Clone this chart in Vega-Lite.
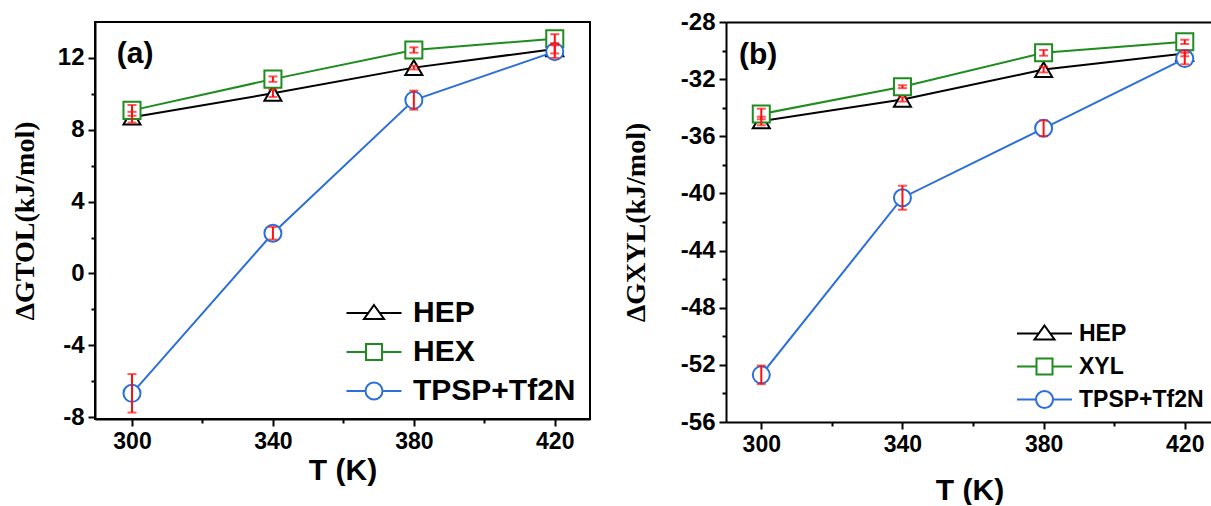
{
  "$schema": "https://vega.github.io/schema/vega-lite/v6.json",
  "padding": {"left": 10, "top": 10, "right": 0, "bottom": 0},
  "background": "white",
  "resolve": {"scale": {"color": "independent", "shape": "independent"}, "legend": {"color": "independent", "shape": "independent"}},
  "config": {
    "font": "Liberation Sans",
    "concat": {"spacing": 31},
    "axis": {"domainColor": "black", "tickColor": "black", "labelColor": "black", "titleColor": "black", "grid": false, "domainWidth": 2, "tickWidth": 2}
  },
  "datasets": {
    "a": [
      {"s": "HEP", "T": 300, "G": 8.7, "e": 0.3},
      {"s": "HEP", "T": 340, "G": 10.03, "e": 0.2},
      {"s": "HEP", "T": 380, "G": 11.46, "e": 0.1},
      {"s": "HEP", "T": 420, "G": 12.5, "e": 0.25},
      {"s": "HEX", "T": 300, "G": 9.08, "e": 0.3},
      {"s": "HEX", "T": 340, "G": 10.82, "e": 0.15},
      {"s": "HEX", "T": 380, "G": 12.44, "e": 0.15},
      {"s": "HEX", "T": 420, "G": 13.07, "e": 0.25},
      {"s": "TPSP+Tf2N", "T": 300, "G": -6.67, "e": 1.07},
      {"s": "TPSP+Tf2N", "T": 340, "G": 2.24, "e": 0.35},
      {"s": "TPSP+Tf2N", "T": 380, "G": 9.65, "e": 0.53},
      {"s": "TPSP+Tf2N", "T": 420, "G": 12.35, "e": 0.35}
    ],
    "b": [
      {"s": "HEP", "T": 300, "G": -34.93, "e": 0.3},
      {"s": "HEP", "T": 340, "G": -33.42, "e": 0.15},
      {"s": "HEP", "T": 380, "G": -31.33, "e": 0.2},
      {"s": "HEP", "T": 420, "G": -30.2, "e": 0.2},
      {"s": "XYL", "T": 300, "G": -34.44, "e": 0.37},
      {"s": "XYL", "T": 340, "G": -32.53, "e": 0.1},
      {"s": "XYL", "T": 380, "G": -30.16, "e": 0.2},
      {"s": "XYL", "T": 420, "G": -29.39, "e": 0.15},
      {"s": "TPSP+Tf2N", "T": 300, "G": -52.7, "e": 0.65},
      {"s": "TPSP+Tf2N", "T": 340, "G": -40.3, "e": 0.84},
      {"s": "TPSP+Tf2N", "T": 380, "G": -35.44, "e": 0.55},
      {"s": "TPSP+Tf2N", "T": 420, "G": -30.56, "e": 0.4}
    ]
  },
  "hconcat": [
    {
      "width": 495,
      "height": 397,
      "data": {"name": "a"},
      "view": {"stroke": "black", "strokeWidth": 2},
      "resolve": {"scale": {"shape": "independent", "color": "independent"}, "axis": {"x": "independent", "y": "independent"}},
      "layer": [
        {
          "mark": {"type": "line", "strokeWidth": 2},
          "encoding": {
            "x": {"field": "T", "type": "quantitative", "scale": {"domain": [289.5, 430], "nice": false, "zero": false},
              "axis": {"orient": "bottom", "values": [300, 340, 380, 420], "labelExpr": "'' + datum.value", "tickSize": 7, "labelPadding": 4, "labelFontSize": 23, "labelFontWeight": "bold", "labelFont": "Liberation Sans", "title": "T (K)", "titleFont": "Liberation Sans", "titleFontSize": 30, "titleFontWeight": "bold", "titlePadding": 2}},
            "y": {"field": "G", "type": "quantitative", "scale": {"domain": [-8.1, 14], "nice": false, "zero": false},
              "axis": {"orient": "left", "values": [-8, -4, 0, 4, 8, 12], "labelExpr": "'' + datum.value", "tickSize": 7, "labelPadding": 4, "labelFontSize": 24, "labelFontWeight": "bold", "labelFont": "Liberation Sans", "title": "ΔGTOL(kJ/mol)", "titleFont": "Liberation Serif", "titleFontSize": 28, "titleFontWeight": "bold", "titlePadding": 18}},
            "color": {"field": "s", "type": "nominal", "scale": {"domain": ["HEP", "HEX", "TPSP+Tf2N"], "range": ["#000000", "#1e8c1e", "#2b6fd8"]}, "legend": null}
          }
        },
        {
          "mark": {"type": "point", "filled": false, "fill": "white", "fillOpacity": 1, "strokeWidth": 2, "size": 290, "opacity": 1},
          "encoding": {
            "x": {"field": "T", "type": "quantitative",
              "axis": {"orient": "bottom", "values": [320, 360, 400], "labels": false, "domain": false, "title": null, "tickSize": 4}},
            "y": {"field": "G", "type": "quantitative",
              "axis": {"orient": "left", "values": [-6, -2, 2, 6, 10], "labels": false, "domain": false, "title": null, "tickSize": 4}},
            "color": {"field": "s", "type": "nominal", "scale": {"domain": ["HEP", "HEX", "TPSP+Tf2N"], "range": ["#000000", "#1e8c1e", "#2b6fd8"]}, "legend": null},
            "shape": {"field": "s", "type": "nominal", "scale": {"domain": ["HEP", "HEX", "TPSP+Tf2N"], "range": ["triangle-up", "square", "circle"]}, "legend": null}
          }
        },
        {
          "mark": {"type": "errorbar", "color": "#ff1010", "thickness": 2, "ticks": {"size": 9, "thickness": 2, "color": "#ff1010"}},
          "encoding": {
            "x": {"field": "T", "type": "quantitative", "axis": null},
            "y": {"field": "G", "type": "quantitative", "axis": null},
            "yError": {"field": "e"}
          }
        },
        {
          "transform": [{"filter": "false"}],
          "mark": {"type": "point", "filled": false, "strokeWidth": 2, "opacity": 1},
          "encoding": {
            "shape": {"field": "s", "type": "nominal",
              "scale": {"domain": ["HEP", "HEX", "TPSP+Tf2N"], "range": ["M-2.75,0H-0.57M0.57,0H2.75M0,-0.8L1,0.6H-1Z", "M-2.75,0H-0.8M0.8,0H2.75M-0.8,-0.8H0.8V0.8H-0.8Z", "M-2.75,0H-0.85M0.85,0H2.75M0.85,0A0.85,0.85,0,1,1,-0.85,0A0.85,0.85,0,1,1,0.85,0Z"]},
              "legend": {"orient": "none", "legendX": 264, "legendY": 276, "title": null, "padding": 0, "labelFont": "Liberation Sans", "labelFontSize": 30, "labelFontWeight": "bold", "labelColor": "black", "labelLimit": 400, "symbolSize": 400, "symbolStrokeWidth": 2, "labelOffset": 24, "rowPadding": 9}},
            "color": {"field": "s", "type": "nominal",
              "scale": {"domain": ["HEP", "HEX", "TPSP+Tf2N"], "range": ["#000000", "#1e8c1e", "#2b6fd8"]},
              "legend": {"orient": "none", "legendX": 264, "legendY": 276, "title": null, "padding": 0, "labelFont": "Liberation Sans", "labelFontSize": 30, "labelFontWeight": "bold", "labelColor": "black", "labelLimit": 400, "symbolSize": 400, "symbolStrokeWidth": 2, "labelOffset": 24, "rowPadding": 9}}
          }
        },
        {
          "data": {"values": [{}]},
          "mark": {"type": "text", "text": "(a)", "font": "Liberation Sans", "fontSize": 30, "fontWeight": "bold", "align": "center", "baseline": "middle", "color": "black"},
          "encoding": {
            "x": {"datum": 300.9, "type": "quantitative", "axis": null},
            "y": {"datum": 12.2, "type": "quantitative", "axis": null}
          }
        }
      ]
    },
    {
      "width": 487,
      "height": 400,
      "data": {"name": "b"},
      "view": {"stroke": null},
      "resolve": {"scale": {"shape": "independent", "color": "independent"}, "axis": {"x": "independent", "y": "independent"}},
      "layer": [
        {
          "mark": {"type": "line", "strokeWidth": 2},
          "encoding": {
            "x": {"field": "T", "type": "quantitative", "scale": {"domain": [290, 428], "nice": false, "zero": false},
              "axis": {"orient": "bottom", "values": [300, 340, 380, 420], "labelExpr": "'' + datum.value", "tickSize": 7, "labelPadding": 4, "labelFontSize": 23, "labelFontWeight": "bold", "labelFont": "Liberation Sans", "title": "T (K)", "titleFont": "Liberation Sans", "titleFontSize": 30, "titleFontWeight": "bold", "titlePadding": 19}},
            "y": {"field": "G", "type": "quantitative", "scale": {"domain": [-56, -28], "nice": false, "zero": false},
              "axis": {"orient": "left", "values": [-56, -52, -48, -44, -40, -36, -32, -28], "labelExpr": "'' + datum.value", "tickSize": 7, "labelPadding": 4, "labelFontSize": 24, "labelFontWeight": "bold", "labelFont": "Liberation Sans", "title": "ΔGXYL(kJ/mol)", "titleFont": "Liberation Serif", "titleFontSize": 28, "titleFontWeight": "bold", "titlePadding": 30}},
            "color": {"field": "s", "type": "nominal", "scale": {"domain": ["HEP", "XYL", "TPSP+Tf2N"], "range": ["#000000", "#1e8c1e", "#2b6fd8"]}, "legend": null}
          }
        },
        {
          "mark": {"type": "point", "filled": false, "fill": "white", "fillOpacity": 1, "strokeWidth": 2, "size": 290, "opacity": 1},
          "encoding": {
            "x": {"field": "T", "type": "quantitative",
              "axis": {"orient": "bottom", "values": [320, 360, 400], "labels": false, "domain": false, "title": null, "tickSize": 4}},
            "y": {"field": "G", "type": "quantitative",
              "axis": {"orient": "left", "values": [-54, -50, -46, -42, -38, -34, -30], "labels": false, "domain": false, "title": null, "tickSize": 4}},
            "color": {"field": "s", "type": "nominal", "scale": {"domain": ["HEP", "XYL", "TPSP+Tf2N"], "range": ["#000000", "#1e8c1e", "#2b6fd8"]}, "legend": null},
            "shape": {"field": "s", "type": "nominal", "scale": {"domain": ["HEP", "XYL", "TPSP+Tf2N"], "range": ["triangle-up", "square", "circle"]}, "legend": null}
          }
        },
        {
          "mark": {"type": "errorbar", "color": "#ff1010", "thickness": 2, "ticks": {"size": 9, "thickness": 2, "color": "#ff1010"}},
          "encoding": {
            "x": {"field": "T", "type": "quantitative", "axis": null},
            "y": {"field": "G", "type": "quantitative", "axis": null},
            "yError": {"field": "e"}
          }
        },
        {
          "transform": [{"filter": "false"}],
          "mark": {"type": "point", "filled": false, "strokeWidth": 2, "opacity": 1},
          "encoding": {
            "x": {"field": "T", "type": "quantitative",
              "axis": {"orient": "top", "labels": false, "ticks": false, "domain": true, "title": null}},
            "shape": {"field": "s", "type": "nominal",
              "scale": {"domain": ["HEP", "XYL", "TPSP+Tf2N"], "range": ["M-2.75,0H-0.57M0.57,0H2.75M0,-0.8L1,0.6H-1Z", "M-2.75,0H-0.8M0.8,0H2.75M-0.8,-0.8H0.8V0.8H-0.8Z", "M-2.75,0H-0.85M0.85,0H2.75M0.85,0A0.85,0.85,0,1,1,-0.85,0A0.85,0.85,0,1,1,0.85,0Z"]},
              "legend": {"orient": "none", "legendX": 307, "legendY": 300, "title": null, "padding": 0, "labelFont": "Liberation Sans", "labelFontSize": 23, "labelFontWeight": "bold", "labelColor": "black", "labelLimit": 400, "symbolSize": 400, "symbolStrokeWidth": 2, "labelOffset": 23, "rowPadding": 8}},
            "color": {"field": "s", "type": "nominal",
              "scale": {"domain": ["HEP", "XYL", "TPSP+Tf2N"], "range": ["#000000", "#1e8c1e", "#2b6fd8"]},
              "legend": {"orient": "none", "legendX": 307, "legendY": 300, "title": null, "padding": 0, "labelFont": "Liberation Sans", "labelFontSize": 23, "labelFontWeight": "bold", "labelColor": "black", "labelLimit": 400, "symbolSize": 400, "symbolStrokeWidth": 2, "labelOffset": 23, "rowPadding": 8}}
          }
        },
        {
          "data": {"values": [{}]},
          "mark": {"type": "text", "text": "(b)", "font": "Liberation Sans", "fontSize": 30, "fontWeight": "bold", "align": "center", "baseline": "middle", "color": "black"},
          "encoding": {
            "x": {"datum": 299.1, "type": "quantitative", "axis": null},
            "y": {"datum": -30.32, "type": "quantitative", "axis": null}
          }
        }
      ]
    }
  ]
}
